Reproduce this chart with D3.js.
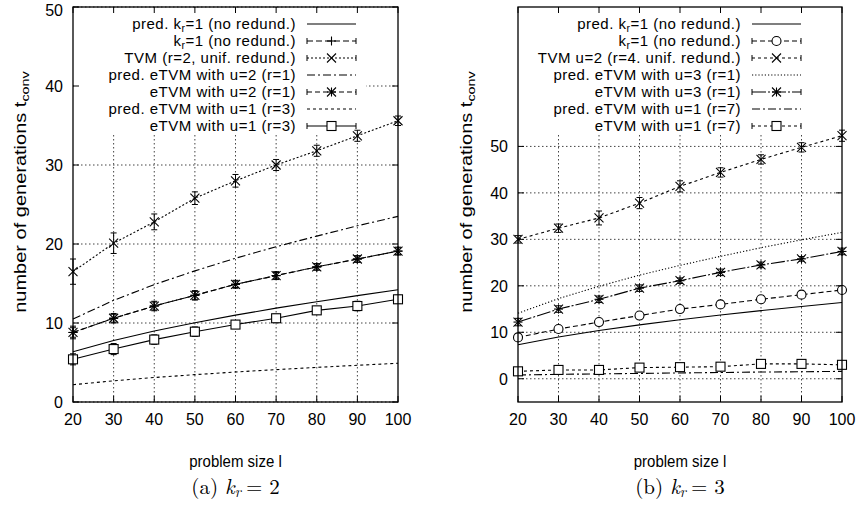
<!DOCTYPE html>
<html><head><meta charset="utf-8">
<script src="https://cdn.jsdelivr.net/npm/d3@7/dist/d3.min.js"></script>
<style>body{margin:0;background:#fff}svg{display:block}</style>
</head><body><svg id="c" width="864" height="508"></svg>
<script>
// ---------- data ----------
const problemSizes = [20, 30, 40, 50, 60, 70, 80, 90, 100];
const xTicks = [20, 30, 40, 50, 60, 70, 80, 90, 100];

// panel (a) k_r = 2
const yTicksA = [0, 10, 20, 30, 40, 50];
const predKr1A      = [6.35, 7.78, 8.98, 10.04, 11.0, 11.88, 12.7, 13.47, 14.2];
const kr1A          = [8.8, 10.6, 12.15, 13.5, 14.9, 16.0, 17.1, 18.1, 19.1];
const kr1ErrA       = [0.6, 0.5, 0.5, 0.5, 0.4, 0.4, 0.4, 0.4, 0.4];
const tvmA          = [16.5, 20.1, 22.8, 25.8, 28.0, 30.0, 31.8, 33.7, 35.6];
const tvmErrA       = [1.6, 1.3, 1.0, 0.8, 0.8, 0.7, 0.7, 0.7, 0.6];
const predEtvmU2A   = [10.5, 12.87, 14.86, 16.6, 18.2, 19.66, 21.0, 22.3, 23.5];
const etvmU2A       = [8.8, 10.6, 12.15, 13.5, 14.9, 16.0, 17.1, 18.1, 19.1];
const etvmU2ErrA    = [0.8, 0.6, 0.6, 0.6, 0.5, 0.5, 0.4, 0.4, 0.5];
const predEtvmU1A   = [2.19, 2.68, 3.1, 3.46, 3.8, 4.1, 4.38, 4.65, 4.9];
const etvmU1A       = [5.4, 6.7, 7.9, 8.9, 9.8, 10.6, 11.6, 12.15, 13.0];
const etvmU1ErrA    = [0.7, 0.7, 0.6, 0.6, 0.5, 0.5, 0.5, 0.6, 0.5];

// panel (b) k_r = 3
const yTicksB = [0, 10, 20, 30, 40, 50];
const predKr1B      = [7.33, 8.98, 10.37, 11.6, 12.7, 13.72, 14.67, 15.56, 16.4];
const kr1B          = [8.9, 10.7, 12.2, 13.6, 15.0, 16.0, 17.1, 18.1, 19.1];
const kr1ErrB       = [0.6, 0.5, 0.5, 0.5, 0.4, 0.4, 0.4, 0.4, 0.4];
const tvmB          = [30.0, 32.4, 34.6, 37.8, 41.4, 44.4, 47.2, 49.8, 52.3];
const tvmErrB       = [0.8, 0.9, 1.5, 1.2, 1.2, 1.0, 1.0, 1.0, 1.2];
const predEtvmU3B   = [14.1, 17.25, 19.9, 22.3, 24.4, 26.35, 28.2, 29.9, 31.5];
const etvmU3B       = [12.2, 15.0, 17.1, 19.5, 21.1, 22.9, 24.5, 25.8, 27.4];
const etvmU3ErrB    = [0.8, 0.7, 0.7, 0.7, 0.6, 0.7, 0.6, 0.5, 0.7];
const predEtvmU1B   = [0.8, 0.95, 1.05, 1.15, 1.25, 1.35, 1.45, 1.5, 1.6];
const etvmU1B       = [1.6, 1.9, 1.9, 2.4, 2.5, 2.6, 3.2, 3.2, 3.0];
const etvmU1ErrB    = [0.4, 0.4, 0.4, 0.5, 0.4, 0.4, 0.4, 0.4, 0.4];

const legendA = ["pred. k_r=1 (no redund.)", "k_r=1 (no redund.)", "TVM (r=2, unif. redund.)",
  "pred. eTVM with u=2 (r=1)", "eTVM with u=2 (r=1)", "pred. eTVM with u=1 (r=3)", "eTVM with u=1 (r=3)"];
const legendB = ["pred. k_r=1 (no redund.)", "k_r=1 (no redund.)", "TVM u=2 (r=4. unif. redund.)",
  "pred. eTVM with u=3 (r=1)", "eTVM with u=3 (r=1)", "pred. eTVM with u=1 (r=7)", "eTVM with u=1 (r=7)"];

// ---------- drawing ----------
const svg = d3.select("#c");
const FONT = "'Liberation Sans', Arial, Helvetica, sans-serif";

function addSubText(sel, str) {
  const m = str.split("_");
  sel.append("tspan").text(m[0]);
  if (m.length > 1) {
    const rest = m[1];
    sel.append("tspan").attr("dy", 2.5).attr("font-size", "0.7em").text(rest[0]);
    sel.append("tspan").attr("dy", -2.5).text(rest.slice(1));
  }
}

function drawMarker(g, type, x, y) {
  const s = 4.5;
  const line = (x1, y1, x2, y2) => g.append("line").attr("x1", x1).attr("y1", y1).attr("x2", x2).attr("y2", y2).attr("stroke", "#000").attr("stroke-width", 1.1);
  if (type === "plus" || type === "star") { line(x - s, y, x + s, y); line(x, y - s, x, y + s); }
  if (type === "cross" || type === "star") { line(x - s, y - s, x + s, y + s); line(x - s, y + s, x + s, y - s); }
  if (type === "square") g.append("rect").attr("x", x - s).attr("y", y - s).attr("width", 2 * s).attr("height", 2 * s).attr("fill", "#fff").attr("stroke", "#000").attr("stroke-width", 1.1);
  if (type === "circle") g.append("circle").attr("cx", x).attr("cy", y).attr("r", s).attr("fill", "#fff").attr("stroke", "#000").attr("stroke-width", 1.1);
}

function panel(cfg) {
  const x = d3.scaleLinear().domain([20, 100]).range([cfg.left, cfg.right]);
  const y = d3.scaleLinear().domain(cfg.yDomain).range([cfg.bottom, cfg.top]);
  const g = svg.append("g");

  // grid
  g.append("g").selectAll("line").data(xTicks.slice(1, -1)).join("line")
    .attr("x1", d => x(d)).attr("x2", d => x(d)).attr("y1", cfg.top).attr("y2", cfg.bottom)
    .attr("stroke", "#444").attr("stroke-width", 1).attr("stroke-dasharray", "1.5,2.5");
  g.append("g").selectAll("line").data(cfg.yTicks).join("line")
    .attr("x1", cfg.left).attr("x2", cfg.right).attr("y1", d => y(d)).attr("y2", d => y(d))
    .attr("stroke", "#444").attr("stroke-width", 1).attr("stroke-dasharray", "1.5,2.5");

  // legend background
  g.append("rect").attr("x", cfg.left + 1).attr("y", cfg.top + 1)
    .attr("width", cfg.legBgRight - cfg.left - 1).attr("height", 126).attr("fill", "#fff");

  // series
  const line = d3.line().x((d, i) => x(problemSizes[i])).y(d => y(d));
  cfg.series.forEach(s => {
    g.append("path").datum(s.values).attr("d", line).attr("fill", "none")
      .attr("stroke", "#000").attr("stroke-width", 1.1).attr("stroke-dasharray", s.dash || null);
    if (s.err) {
      s.values.forEach((v, i) => {
        const xx = x(problemSizes[i]);
        const y1 = y(v - s.err[i]), y2 = y(v + s.err[i]);
        g.append("line").attr("x1", xx).attr("x2", xx).attr("y1", y1).attr("y2", y2).attr("stroke", "#000").attr("stroke-width", 1);
        [y1, y2].forEach(yy => g.append("line").attr("x1", xx - 3).attr("x2", xx + 3).attr("y1", yy).attr("y2", yy).attr("stroke", "#000").attr("stroke-width", 1));
      });
    }
    if (s.marker) s.values.forEach((v, i) => drawMarker(g, s.marker, x(problemSizes[i]), y(v)));
  });

  // frame
  g.append("rect").attr("x", cfg.left).attr("y", cfg.top).attr("width", cfg.right - cfg.left)
    .attr("height", cfg.bottom - cfg.top).attr("fill", "none").attr("stroke", "#000").attr("stroke-width", 1.3);
  const tk = 6;
  xTicks.forEach(t => {
    g.append("line").attr("x1", x(t)).attr("x2", x(t)).attr("y1", cfg.bottom).attr("y2", cfg.bottom - tk).attr("stroke", "#000");
    g.append("line").attr("x1", x(t)).attr("x2", x(t)).attr("y1", cfg.top).attr("y2", cfg.top + tk).attr("stroke", "#000");
  });
  cfg.yTicks.forEach(t => {
    g.append("line").attr("x1", cfg.left).attr("x2", cfg.left + tk).attr("y1", y(t)).attr("y2", y(t)).attr("stroke", "#000");
    g.append("line").attr("x1", cfg.right).attr("x2", cfg.right - tk).attr("y1", y(t)).attr("y2", y(t)).attr("stroke", "#000");
  });
  // tick labels
  g.append("g").selectAll("text").data(xTicks).join("text")
    .attr("x", d => x(d)).attr("y", cfg.bottom + 23).attr("text-anchor", "middle")
    .attr("font-family", FONT).attr("font-size", 16).text(d => d);
  g.append("g").selectAll("text").data(cfg.yTicks).join("text")
    .attr("x", cfg.left - 10).attr("y", d => Math.max(y(d), 10)).attr("dy", "0.36em").attr("text-anchor", "end")
    .attr("font-family", FONT).attr("font-size", 16).text(d => d);

  // legend
  cfg.series.forEach((s, i) => {
    const ly = cfg.top + 17 + i * 17;
    const t = g.append("text").attr("x", cfg.legTextEnd).attr("y", ly).attr("dy", "0.35em")
      .attr("text-anchor", "end").attr("font-family", FONT).attr("font-size", 15)
      .attr("letter-spacing", 0.5);
    addSubText(t, cfg.labels[i]);
    const x1 = cfg.legTextEnd + 11, x2 = cfg.legTextEnd + 60;
    g.append("line").attr("x1", x1).attr("x2", x2).attr("y1", ly).attr("y2", ly)
      .attr("stroke", "#000").attr("stroke-width", 1.1).attr("stroke-dasharray", s.dash || null);
    if (s.err) [x1, x2].forEach(xx => g.append("line").attr("x1", xx).attr("x2", xx).attr("y1", ly - 3).attr("y2", ly + 3).attr("stroke", "#000"));
    if (s.marker) drawMarker(g, s.marker, (x1 + x2) / 2, ly);
  });

  // axis titles
  const cx = (cfg.left + cfg.right) / 2;
  g.append("text").attr("transform", `translate(${cx},467) scale(1,1.15)`).attr("text-anchor", "middle")
    .attr("font-family", FONT).attr("font-size", 15).text("problem size l");
  const yt = g.append("text").attr("transform", `translate(${cfg.yTitleX},192) rotate(-90) scale(1.25,1)`)
    .attr("text-anchor", "middle").attr("font-family", FONT).attr("font-size", 16);
  yt.append("tspan").text("number of generations t");
  yt.append("tspan").attr("dy", 3).attr("font-size", "0.72em").text("conv");

  // caption
  const cap = g.append("text").attr("x", cx).attr("y", 494).attr("text-anchor", "middle")
    .attr("font-family", "'Latin Modern Roman','Liberation Serif','DejaVu Serif',serif").attr("font-size", 21);
  cap.append("tspan").text(cfg.capLetter + " ");
  cap.append("tspan").attr("font-style", "italic").text("k");
  cap.append("tspan").attr("font-style", "italic").attr("dy", 3).attr("font-size", "0.7em").text("r");
  cap.append("tspan").attr("dy", -3).attr("dx", 5).text("= " + cfg.capVal);
}

panel({
  left: 73, right: 398, top: 7, bottom: 402, yDomain: [0, 50], yTicks: yTicksA,
  legTextEnd: 296, legBgRight: 366, yTitleX: 26, capLetter: "(a)", capVal: "2",
  labels: legendA,
  series: [
    {values: predKr1A},
    {values: kr1A, err: kr1ErrA, marker: "plus", dash: "6,3"},
    {values: tvmA, err: tvmErrA, marker: "cross", dash: "2,2"},
    {values: predEtvmU2A, dash: "8,3,2,3"},
    {values: etvmU2A, err: etvmU2ErrA, marker: "star", dash: "5,3"},
    {values: predEtvmU1A, dash: "3,3"},
    {values: etvmU1A, err: etvmU1ErrA, marker: "square"}
  ]
});

panel({
  left: 518, right: 842, top: 7, bottom: 402, yDomain: [-5, 80], yTicks: yTicksB,
  legTextEnd: 741, legBgRight: 812, yTitleX: 472, capLetter: "(b)", capVal: "3",
  labels: legendB,
  series: [
    {values: predKr1B},
    {values: kr1B, err: kr1ErrB, marker: "circle", dash: "5,3"},
    {values: tvmB, err: tvmErrB, marker: "cross", dash: "3,3"},
    {values: predEtvmU3B, dash: "1.2,2"},
    {values: etvmU3B, err: etvmU3ErrB, marker: "star", dash: "14,2,2,2"},
    {values: predEtvmU1B, dash: "8,3,2,3"},
    {values: etvmU1B, err: etvmU1ErrB, marker: "square", dash: "3,3"}
  ]
});
</script></body></html>
